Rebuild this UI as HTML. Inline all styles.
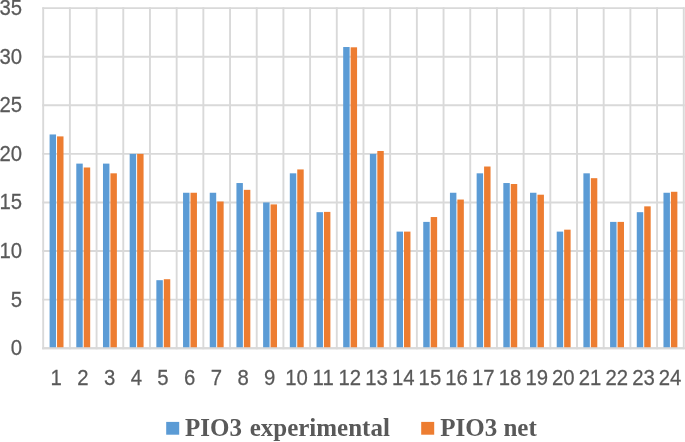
<!DOCTYPE html>
<html><head><meta charset="utf-8"><title>PIO3 chart</title>
<style>
html,body{margin:0;padding:0;background:#fff;}
body{width:685px;height:442px;overflow:hidden;}
svg{display:block;will-change:transform;}
.ax{font-family:"Liberation Sans","DejaVu Sans",sans-serif;font-size:21.5px;fill:#595959;stroke:#595959;stroke-width:0.25px;}
.lg{font-family:"Liberation Serif","DejaVu Serif",serif;font-weight:bold;font-size:26px;fill:#595959;}
</style></head><body>
<svg width="685" height="442" viewBox="0 0 685 442">
<rect width="685" height="442" fill="#fff"/>
<g stroke="#d9d9d9" stroke-width="1.9" fill="none" stroke-linecap="square">
<line x1="43.20" y1="348.20" x2="683.76" y2="348.20"/>
<line x1="43.20" y1="299.62" x2="683.76" y2="299.62"/>
<line x1="43.20" y1="251.05" x2="683.76" y2="251.05"/>
<line x1="43.20" y1="202.47" x2="683.76" y2="202.47"/>
<line x1="43.20" y1="153.89" x2="683.76" y2="153.89"/>
<line x1="43.20" y1="105.31" x2="683.76" y2="105.31"/>
<line x1="43.20" y1="56.74" x2="683.76" y2="56.74"/>
<line x1="43.20" y1="8.16" x2="683.76" y2="8.16"/>
<line x1="43.20" y1="8.16" x2="43.20" y2="348.20"/>
<line x1="69.89" y1="8.16" x2="69.89" y2="348.20"/>
<line x1="96.58" y1="8.16" x2="96.58" y2="348.20"/>
<line x1="123.27" y1="8.16" x2="123.27" y2="348.20"/>
<line x1="149.96" y1="8.16" x2="149.96" y2="348.20"/>
<line x1="176.65" y1="8.16" x2="176.65" y2="348.20"/>
<line x1="203.34" y1="8.16" x2="203.34" y2="348.20"/>
<line x1="230.03" y1="8.16" x2="230.03" y2="348.20"/>
<line x1="256.72" y1="8.16" x2="256.72" y2="348.20"/>
<line x1="283.41" y1="8.16" x2="283.41" y2="348.20"/>
<line x1="310.10" y1="8.16" x2="310.10" y2="348.20"/>
<line x1="336.79" y1="8.16" x2="336.79" y2="348.20"/>
<line x1="363.48" y1="8.16" x2="363.48" y2="348.20"/>
<line x1="390.17" y1="8.16" x2="390.17" y2="348.20"/>
<line x1="416.86" y1="8.16" x2="416.86" y2="348.20"/>
<line x1="443.55" y1="8.16" x2="443.55" y2="348.20"/>
<line x1="470.24" y1="8.16" x2="470.24" y2="348.20"/>
<line x1="496.93" y1="8.16" x2="496.93" y2="348.20"/>
<line x1="523.62" y1="8.16" x2="523.62" y2="348.20"/>
<line x1="550.31" y1="8.16" x2="550.31" y2="348.20"/>
<line x1="577.00" y1="8.16" x2="577.00" y2="348.20"/>
<line x1="603.69" y1="8.16" x2="603.69" y2="348.20"/>
<line x1="630.38" y1="8.16" x2="630.38" y2="348.20"/>
<line x1="657.07" y1="8.16" x2="657.07" y2="348.20"/>
<line x1="683.76" y1="8.16" x2="683.76" y2="348.20"/>
</g>
<g fill="#5b9bd5">
<rect x="49.59" y="134.46" width="6.45" height="213.74"/>
<rect x="76.29" y="163.61" width="6.45" height="184.59"/>
<rect x="102.98" y="163.61" width="6.45" height="184.59"/>
<rect x="129.67" y="153.89" width="6.45" height="194.31"/>
<rect x="156.36" y="280.19" width="6.45" height="68.01"/>
<rect x="183.05" y="192.75" width="6.45" height="155.45"/>
<rect x="209.74" y="192.75" width="6.45" height="155.45"/>
<rect x="236.43" y="183.04" width="6.45" height="165.16"/>
<rect x="263.12" y="202.47" width="6.45" height="145.73"/>
<rect x="289.81" y="173.32" width="6.45" height="174.88"/>
<rect x="316.50" y="212.18" width="6.45" height="136.02"/>
<rect x="343.19" y="47.02" width="6.45" height="301.18"/>
<rect x="369.88" y="153.89" width="6.45" height="194.31"/>
<rect x="396.56" y="231.61" width="6.45" height="116.59"/>
<rect x="423.25" y="221.90" width="6.45" height="126.30"/>
<rect x="449.94" y="192.75" width="6.45" height="155.45"/>
<rect x="476.64" y="173.32" width="6.45" height="174.88"/>
<rect x="503.33" y="183.04" width="6.45" height="165.16"/>
<rect x="530.01" y="192.75" width="6.45" height="155.45"/>
<rect x="556.71" y="231.61" width="6.45" height="116.59"/>
<rect x="583.39" y="173.32" width="6.45" height="174.88"/>
<rect x="610.09" y="221.90" width="6.45" height="126.30"/>
<rect x="636.77" y="212.18" width="6.45" height="136.02"/>
<rect x="663.47" y="192.75" width="6.45" height="155.45"/>
</g>
<g fill="#ed7d31">
<rect x="57.05" y="136.40" width="6.45" height="211.80"/>
<rect x="83.74" y="167.49" width="6.45" height="180.71"/>
<rect x="110.43" y="173.32" width="6.45" height="174.88"/>
<rect x="137.12" y="153.89" width="6.45" height="194.31"/>
<rect x="163.81" y="279.22" width="6.45" height="68.98"/>
<rect x="190.50" y="192.75" width="6.45" height="155.45"/>
<rect x="217.19" y="201.50" width="6.45" height="146.70"/>
<rect x="243.88" y="189.84" width="6.45" height="158.36"/>
<rect x="270.56" y="204.41" width="6.45" height="143.79"/>
<rect x="297.25" y="169.44" width="6.45" height="178.76"/>
<rect x="323.94" y="211.89" width="6.45" height="136.31"/>
<rect x="350.63" y="47.31" width="6.45" height="300.89"/>
<rect x="377.32" y="150.98" width="6.45" height="197.22"/>
<rect x="404.01" y="231.61" width="6.45" height="116.59"/>
<rect x="430.70" y="217.04" width="6.45" height="131.16"/>
<rect x="457.39" y="199.55" width="6.45" height="148.65"/>
<rect x="484.09" y="166.52" width="6.45" height="181.68"/>
<rect x="510.78" y="184.01" width="6.45" height="164.19"/>
<rect x="537.47" y="194.70" width="6.45" height="153.50"/>
<rect x="564.16" y="229.67" width="6.45" height="118.53"/>
<rect x="590.85" y="178.18" width="6.45" height="170.02"/>
<rect x="617.54" y="221.90" width="6.45" height="126.30"/>
<rect x="644.23" y="206.35" width="6.45" height="141.85"/>
<rect x="670.92" y="191.78" width="6.45" height="156.42"/>
</g>
<line x1="42.30" y1="348.20" x2="684.36" y2="348.20" stroke="#d9d9d9" stroke-width="1.9"/>
<g class="ax" text-anchor="end">
<text transform="translate(22.00,355.10) scale(0.945,1)">0</text>
<text transform="translate(22.00,306.52) scale(0.945,1)">5</text>
<text transform="translate(22.00,257.95) scale(0.945,1)">10</text>
<text transform="translate(22.00,209.37) scale(0.945,1)">15</text>
<text transform="translate(22.00,160.79) scale(0.945,1)">20</text>
<text transform="translate(22.00,112.21) scale(0.945,1)">25</text>
<text transform="translate(22.00,63.64) scale(0.945,1)">30</text>
<text transform="translate(22.00,15.06) scale(0.945,1)">35</text>
</g>
<g class="ax" text-anchor="middle">
<text transform="translate(56.25,384.80) scale(0.945,1)">1</text>
<text transform="translate(82.94,384.80) scale(0.945,1)">2</text>
<text transform="translate(109.63,384.80) scale(0.945,1)">3</text>
<text transform="translate(136.31,384.80) scale(0.945,1)">4</text>
<text transform="translate(163.00,384.80) scale(0.945,1)">5</text>
<text transform="translate(189.69,384.80) scale(0.945,1)">6</text>
<text transform="translate(216.38,384.80) scale(0.945,1)">7</text>
<text transform="translate(243.07,384.80) scale(0.945,1)">8</text>
<text transform="translate(269.76,384.80) scale(0.945,1)">9</text>
<text transform="translate(296.45,384.80) scale(0.945,1)">10</text>
<text transform="translate(323.14,384.80) scale(0.945,1)">11</text>
<text transform="translate(349.83,384.80) scale(0.945,1)">12</text>
<text transform="translate(376.52,384.80) scale(0.945,1)">13</text>
<text transform="translate(403.21,384.80) scale(0.945,1)">14</text>
<text transform="translate(429.90,384.80) scale(0.945,1)">15</text>
<text transform="translate(456.59,384.80) scale(0.945,1)">16</text>
<text transform="translate(483.29,384.80) scale(0.945,1)">17</text>
<text transform="translate(509.98,384.80) scale(0.945,1)">18</text>
<text transform="translate(536.67,384.80) scale(0.945,1)">19</text>
<text transform="translate(563.36,384.80) scale(0.945,1)">20</text>
<text transform="translate(590.05,384.80) scale(0.945,1)">21</text>
<text transform="translate(616.74,384.80) scale(0.945,1)">22</text>
<text transform="translate(643.43,384.80) scale(0.945,1)">23</text>
<text transform="translate(670.12,384.80) scale(0.945,1)">24</text>
</g>
<rect x="166.2" y="421.9" width="13" height="12.8" fill="#5b9bd5"/>
<text class="lg" style="word-spacing:1.5px" transform="translate(185.0,436.1) scale(0.962,1)">PIO3 experimental</text>
<rect x="421.2" y="421.9" width="13" height="12.8" fill="#ed7d31"/>
<text class="lg" transform="translate(440.2,436.1) scale(0.962,1)">PIO3 net</text>
</svg>
</body></html>
